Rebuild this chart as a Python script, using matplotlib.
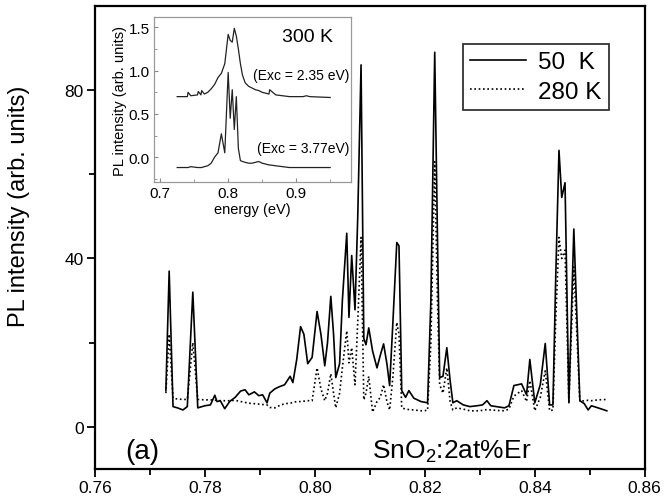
import numpy as np
import matplotlib.pyplot as plt
from matplotlib.ticker import MultipleLocator, FixedLocator

plt.rcParams['font.family'] = ['Liberation Sans', 'DejaVu Sans']
plt.rcParams['mathtext.default'] = 'regular'

# main spectra (energy in eV, PL intensity in arb. units)
energy = [0.7729, 0.7735, 0.7742, 0.7750, 0.7760, 0.7768, 0.7778, 0.7787, 0.7800, 0.7810,
          0.7818, 0.7822, 0.7828, 0.7836, 0.7845, 0.7855, 0.7865, 0.7873, 0.7880, 0.7890,
          0.7898, 0.7905, 0.7913, 0.7918, 0.7927, 0.7935, 0.7945, 0.7955, 0.7960, 0.7967,
          0.7974, 0.7980, 0.7987, 0.7995, 0.8004, 0.8011, 0.8018, 0.8023, 0.8029, 0.8034,
          0.8038, 0.8045, 0.8050, 0.8058, 0.8062, 0.8067, 0.8073, 0.8078, 0.8084, 0.8089,
          0.8093, 0.8098, 0.8105, 0.8113, 0.8119, 0.8125, 0.8131, 0.8136, 0.8142, 0.8149,
          0.8153, 0.8158, 0.8165, 0.8171, 0.8180, 0.8193, 0.8205, 0.8211, 0.8218, 0.8223,
          0.8227, 0.8233, 0.8240, 0.8246, 0.8251, 0.8258, 0.8270, 0.8282, 0.8295, 0.8305,
          0.8313, 0.8320, 0.8330, 0.8345, 0.8353, 0.8362, 0.8376, 0.8385, 0.8391, 0.8400,
          0.8410, 0.8419, 0.8427, 0.8433, 0.8438, 0.8444, 0.8449, 0.8455, 0.8462, 0.8471,
          0.8482, 0.8490, 0.8497, 0.8503, 0.8515, 0.8531]
pl_50k = [8.6, 37.0, 4.8, 4.5, 4.0, 4.8, 32.0, 4.5, 5.0, 5.2,
          7.5, 6.0, 6.2, 4.3, 6.0, 7.0, 8.5, 8.8, 7.6, 8.3,
          7.4, 7.6, 5.7, 8.0, 9.0, 9.5, 10.0, 12.0, 10.5, 16.0,
          23.8, 22.0, 15.0, 16.5, 27.4, 22.0, 14.5, 20.0, 31.0, 22.0,
          11.7, 15.0, 30.0, 46.0, 26.0, 40.7, 27.8, 50.0, 86.0, 21.0,
          19.5, 23.5, 18.0, 14.0, 17.0, 19.7, 15.0, 9.8, 25.0, 43.8,
          43.0, 8.6, 7.0, 8.6, 6.8, 6.0, 5.7, 30.0, 89.0, 45.0,
          11.7, 12.0, 18.8, 11.0, 5.7, 6.2, 5.2, 4.8, 5.0, 5.2,
          6.2, 5.0, 4.8, 4.5, 5.0, 9.8, 10.2, 7.6, 16.0, 5.7,
          10.0, 19.8, 5.2, 5.2, 35.0, 65.7, 54.5, 58.0, 5.7, 47.0,
          6.2, 5.5, 4.0, 5.0, 4.5, 3.8]
pl_280k = [8.0, 22.0, 6.8, 6.6, 6.5, 6.5, 20.0, 6.5, 6.4, 6.4,
           6.3, 6.3, 6.2, 6.2, 6.2, 6.3, 6.0, 5.8, 5.6, 5.5,
           5.4, 5.3, 5.2, 4.6, 4.5, 5.0, 5.5, 5.6, 5.8, 6.0,
           6.0, 6.1, 6.2, 6.2, 14.0, 9.0, 6.2, 8.0, 12.6, 8.0,
           4.5, 8.0, 14.0, 22.8, 15.2, 18.8, 10.0, 25.0, 45.0, 6.4,
           8.0, 12.0, 3.5, 6.0, 7.0, 10.0, 6.0, 4.0, 12.0, 24.8,
           22.0, 4.5, 4.2, 4.1, 4.0, 3.8, 3.9, 20.0, 63.0, 30.0,
           10.0, 8.0, 14.0, 6.0, 4.0, 4.5, 4.2, 3.8, 3.8, 3.9,
           4.1, 4.0, 3.9, 3.8, 4.2, 7.3, 8.6, 6.0, 11.0, 3.8,
           7.0, 13.3, 3.8, 4.0, 25.0, 45.0, 40.0, 42.0, 6.0, 38.0,
           6.0, 6.2, 6.3, 6.2, 6.4, 6.5]

# inset: 300 K spectra for two excitation energies
inset_energy = [0.725, 0.735, 0.740, 0.741, 0.745, 0.755, 0.756, 0.760, 0.761, 0.765,
                0.770, 0.775, 0.780, 0.785, 0.790, 0.795, 0.800, 0.803, 0.806, 0.809,
                0.812, 0.815, 0.818, 0.821, 0.825, 0.830, 0.835, 0.840, 0.845, 0.850,
                0.855, 0.860, 0.861, 0.870, 0.880, 0.890, 0.900, 0.910, 0.915, 0.920,
                0.950]
exc_235 = [0.70, 0.70, 0.70, 0.75, 0.71, 0.72, 0.76, 0.72, 0.77, 0.73,
           0.75, 0.79, 0.84, 0.92, 0.97, 1.08, 1.42, 1.35, 1.33, 1.49,
           1.40, 1.25, 1.08, 0.95, 0.86, 0.82, 0.80, 0.78, 0.77, 0.75,
           0.74, 0.73, 0.78, 0.72, 0.71, 0.70, 0.70, 0.70, 0.71, 0.70,
           0.69]
exc_377 = [-0.12, -0.12, -0.12, -0.12, -0.11, -0.12, -0.12, -0.12, -0.12, -0.11,
           -0.10, -0.07, 0.00, 0.05, 0.27, 0.05, 0.98, 0.45, 0.78, 0.32,
           0.70, 0.10, -0.04, -0.05, -0.06, -0.07, -0.07, -0.06, -0.05, -0.07,
           -0.08, -0.09, -0.09, -0.10, -0.11, -0.12, -0.12, -0.12, -0.12, -0.12,
           -0.12]

fig = plt.figure(figsize=(6.64, 5.02), dpi=100)
ax = fig.add_axes([0.143, 0.064, 0.828, 0.922])

ax.plot(energy, pl_50k, color='black', lw=1.2, label='50  K')
ax.plot(energy, pl_280k, color='black', lw=1.2, ls=(0, (1, 1.6)), label='280 K')

ax.set_xlim(0.76, 0.86)
ax.set_ylim(-10, 100)
ax.xaxis.set_major_locator(MultipleLocator(0.02))
ax.xaxis.set_minor_locator(MultipleLocator(0.01))
ax.yaxis.set_major_locator(FixedLocator([0, 40, 80]))
ax.yaxis.set_minor_locator(FixedLocator([20, 60]))
ax.xaxis.set_major_formatter(lambda v, p: f'{v:.2f}')
ax.tick_params(which='major', direction='out', length=6, width=1.3, labelsize=12.5, pad=2)
ax.tick_params(which='minor', direction='out', length=4, width=1.3)
for s in ax.spines.values():
    s.set_linewidth(1.6)
ax.set_ylabel('PL intensity (arb. units)', fontsize=17)
ax.yaxis.set_label_coords(-0.118, 0.57)

leg = ax.legend(loc='upper right', bbox_to_anchor=(0.935, 0.918), fontsize=17.5,
                frameon=True, fancybox=False, edgecolor='black', handlelength=2.3,
                borderpad=0.3, labelspacing=0.3, handletextpad=0.5, borderaxespad=0)
leg.get_frame().set_linewidth(1.3)

ax.text(0.7687, -7.4, '(a)', fontsize=20, ha='center', va='baseline')
ax.text(0.8104, -7.4, 'SnO$_2$:2at%Er', fontsize=19, ha='left', va='baseline')

# inset
axi = fig.add_axes([0.232, 0.635, 0.297, 0.329])
axi.plot(inset_energy, exc_235, color='#222222', lw=0.9)
axi.plot(inset_energy, exc_377, color='#222222', lw=0.9)
axi.set_xlim(0.691, 0.981)
axi.set_ylim(-0.29, 1.62)
axi.xaxis.set_major_locator(MultipleLocator(0.1))
axi.xaxis.set_minor_locator(MultipleLocator(0.05))
axi.yaxis.set_major_locator(MultipleLocator(0.5))
axi.yaxis.set_minor_locator(MultipleLocator(0.25))
axi.xaxis.set_major_formatter(lambda v, p: f'{v:.1f}')
axi.yaxis.set_major_formatter(lambda v, p: f'{v:.1f}')
axi.tick_params(which='both', direction='in', color='#888888', labelsize=11, pad=3)
axi.tick_params(which='major', length=3)
axi.tick_params(which='minor', length=2)
for s in axi.spines.values():
    s.set_color('#999999')
    s.set_linewidth(0.9)
axi.set_xlabel('energy (eV)', fontsize=10.5, labelpad=1)
axi.set_ylabel('PL intensity (arb. units)', fontsize=10.5, labelpad=1)
axi.text(0.78, 0.885, '300 K', transform=axi.transAxes, fontsize=14, ha='center', va='center')
axi.text(0.99, 0.65, '(Exc = 2.35 eV)', transform=axi.transAxes, fontsize=10, ha='right', va='center')
axi.text(0.99, 0.205, '(Exc = 3.77eV)', transform=axi.transAxes, fontsize=10, ha='right', va='center')

fig.savefig('out.png', dpi=100)
